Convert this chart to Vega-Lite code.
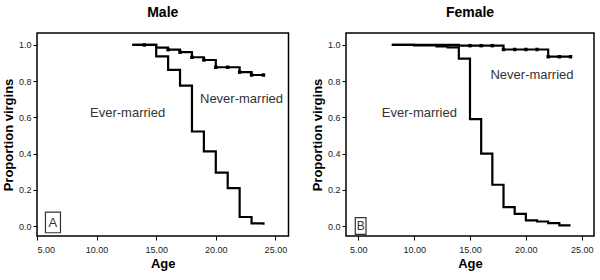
{
  "$schema": "https://vega.github.io/schema/vega-lite/v6.json",
  "padding": {"left": 1, "top": 5, "right": 3, "bottom": 2},
  "spacing": 20,
  "background": "#ffffff",
  "config": {
    "font": "Liberation Sans",
    "view": {"stroke": "#000000", "strokeWidth": 1.5},
    "axis": {
      "labelFont": "Liberation Sans", "labelFontSize": 9, "labelColor": "#222222",
      "titleFont": "Liberation Sans", "titleFontSize": 13, "titleFontWeight": "bold", "titleColor": "#000000",
      "tickColor": "#000000", "tickSize": 4, "tickWidth": 1, "domain": false, "grid": false
    },
    "axisX": {"labelPadding": 5, "titlePadding": 3},
    "axisY": {"labelPadding": 2, "titlePadding": 3},
    "title": {"font": "Liberation Sans", "fontSize": 14, "fontWeight": "bold", "color": "#000000", "anchor": "middle", "offset": 13}
  },
  "datasets": {
    "curves": [
      {"sex": "Male", "group": "Ever-married", "age": 13, "p": 1.0},
      {"sex": "Male", "group": "Ever-married", "age": 15, "p": 0.937},
      {"sex": "Male", "group": "Ever-married", "age": 16, "p": 0.862},
      {"sex": "Male", "group": "Ever-married", "age": 17, "p": 0.775},
      {"sex": "Male", "group": "Ever-married", "age": 18, "p": 0.522},
      {"sex": "Male", "group": "Ever-married", "age": 19, "p": 0.412},
      {"sex": "Male", "group": "Ever-married", "age": 20, "p": 0.295},
      {"sex": "Male", "group": "Ever-married", "age": 21, "p": 0.209},
      {"sex": "Male", "group": "Ever-married", "age": 22, "p": 0.05},
      {"sex": "Male", "group": "Ever-married", "age": 23, "p": 0.015},
      {"sex": "Male", "group": "Ever-married", "age": 24, "p": 0.007},
      {"sex": "Male", "group": "Never-married", "age": 13, "p": 1.0},
      {"sex": "Male", "group": "Never-married", "age": 15, "p": 0.985},
      {"sex": "Male", "group": "Never-married", "age": 16, "p": 0.974},
      {"sex": "Male", "group": "Never-married", "age": 17, "p": 0.96},
      {"sex": "Male", "group": "Never-married", "age": 18, "p": 0.932},
      {"sex": "Male", "group": "Never-married", "age": 19, "p": 0.917},
      {"sex": "Male", "group": "Never-married", "age": 20, "p": 0.877},
      {"sex": "Male", "group": "Never-married", "age": 22, "p": 0.85},
      {"sex": "Male", "group": "Never-married", "age": 23, "p": 0.834},
      {"sex": "Male", "group": "Never-married", "age": 24, "p": 0.834},
      {"sex": "Female", "group": "Ever-married", "age": 8, "p": 1.0},
      {"sex": "Female", "group": "Ever-married", "age": 10, "p": 0.997},
      {"sex": "Female", "group": "Ever-married", "age": 12, "p": 0.992},
      {"sex": "Female", "group": "Ever-married", "age": 13, "p": 0.987},
      {"sex": "Female", "group": "Ever-married", "age": 14, "p": 0.925},
      {"sex": "Female", "group": "Ever-married", "age": 15, "p": 0.59},
      {"sex": "Female", "group": "Ever-married", "age": 16, "p": 0.4},
      {"sex": "Female", "group": "Ever-married", "age": 17, "p": 0.228},
      {"sex": "Female", "group": "Ever-married", "age": 18, "p": 0.105},
      {"sex": "Female", "group": "Ever-married", "age": 19, "p": 0.067},
      {"sex": "Female", "group": "Ever-married", "age": 20, "p": 0.031},
      {"sex": "Female", "group": "Ever-married", "age": 21, "p": 0.025},
      {"sex": "Female", "group": "Ever-married", "age": 22, "p": 0.016},
      {"sex": "Female", "group": "Ever-married", "age": 23, "p": 0.004},
      {"sex": "Female", "group": "Ever-married", "age": 24, "p": 0.004},
      {"sex": "Female", "group": "Never-married", "age": 8, "p": 1.0},
      {"sex": "Female", "group": "Never-married", "age": 14, "p": 0.996},
      {"sex": "Female", "group": "Never-married", "age": 18, "p": 0.975},
      {"sex": "Female", "group": "Never-married", "age": 22, "p": 0.935},
      {"sex": "Female", "group": "Never-married", "age": 24, "p": 0.935}
    ],
    "censor": [
      {"sex": "Male", "age": 14, "p": 1.0},
      {"sex": "Male", "age": 16, "p": 0.974},
      {"sex": "Male", "age": 17, "p": 0.96},
      {"sex": "Male", "age": 18, "p": 0.932},
      {"sex": "Male", "age": 19, "p": 0.917},
      {"sex": "Male", "age": 20, "p": 0.877},
      {"sex": "Male", "age": 21, "p": 0.877},
      {"sex": "Male", "age": 22, "p": 0.85},
      {"sex": "Male", "age": 23, "p": 0.834},
      {"sex": "Male", "age": 24, "p": 0.834},
      {"sex": "Female", "age": 15, "p": 0.996},
      {"sex": "Female", "age": 16, "p": 0.996},
      {"sex": "Female", "age": 17, "p": 0.996},
      {"sex": "Female", "age": 18, "p": 0.975},
      {"sex": "Female", "age": 19, "p": 0.975},
      {"sex": "Female", "age": 20, "p": 0.975},
      {"sex": "Female", "age": 21, "p": 0.975},
      {"sex": "Female", "age": 22, "p": 0.935},
      {"sex": "Female", "age": 23, "p": 0.935},
      {"sex": "Female", "age": 24, "p": 0.935}
    ],
    "labels": [
      {"sex": "Male", "label": "Ever-married", "age": 12.6, "p": 0.624},
      {"sex": "Male", "label": "Never-married", "age": 22.16, "p": 0.7},
      {"sex": "Female", "label": "Ever-married", "age": 10.47, "p": 0.624},
      {"sex": "Female", "label": "Never-married", "age": 20.55, "p": 0.834}
    ],
    "boxes": [
      {"sex": "Male", "letter": "A", "age": 6.32, "p": 0.019, "x1": 5.71, "x2": 6.97, "y1": -0.037, "y2": 0.077},
      {"sex": "Female", "letter": "B", "age": 5.22, "p": 0.002, "x1": 4.73, "x2": 5.69, "y1": -0.046, "y2": 0.046}
    ]
  },
  "hconcat": [
    {
      "title": {"text": "Male"},
      "width": 251.5,
      "height": 203,
      "layer": [
        {
          "data": {"name": "curves"},
          "transform": [{"filter": "datum.sex === 'Male'"}],
          "mark": {"type": "line", "interpolate": "step-after", "color": "#000000", "strokeWidth": 2.2},
          "encoding": {
            "x": {"field": "age", "type": "quantitative", "scale": {"domain": [5, 26.1], "nice": false, "zero": false}, "axis": {"values": [5, 10, 15, 20, 25], "format": ".2f", "title": "Age"}},
            "y": {"field": "p", "type": "quantitative", "scale": {"domain": [-0.055, 1.066], "nice": false, "zero": false}, "axis": {"values": [0, 0.2, 0.4, 0.6, 0.8, 1.0], "format": ".1f", "title": "Proportion virgins"}},
            "detail": {"field": "group", "type": "nominal"}
          }
        },
        {
          "data": {"name": "censor"},
          "transform": [{"filter": "datum.sex === 'Male'"}],
          "mark": {"type": "point", "shape": "square", "filled": true, "color": "#000000", "size": 12, "opacity": 1},
          "encoding": {"x": {"field": "age", "type": "quantitative"}, "y": {"field": "p", "type": "quantitative"}}
        },
        {
          "data": {"name": "labels"},
          "transform": [{"filter": "datum.sex === 'Male'"}],
          "mark": {"type": "text", "font": "Liberation Sans", "fontSize": 13, "color": "#333333", "align": "center", "baseline": "middle"},
          "encoding": {"x": {"field": "age", "type": "quantitative"}, "y": {"field": "p", "type": "quantitative"}, "text": {"field": "label"}}
        },
        {
          "data": {"name": "boxes"},
          "transform": [{"filter": "datum.sex === 'Male'"}],
          "mark": {"type": "rect", "fill": null, "stroke": "#333333", "strokeWidth": 1.2},
          "encoding": {"x": {"field": "x1", "type": "quantitative"}, "x2": {"field": "x2"}, "y": {"field": "y1", "type": "quantitative"}, "y2": {"field": "y2"}}
        },
        {
          "data": {"name": "boxes"},
          "transform": [{"filter": "datum.sex === 'Male'"}],
          "mark": {"type": "text", "font": "Liberation Sans", "fontSize": 13, "color": "#333333", "align": "center", "baseline": "middle"},
          "encoding": {"x": {"field": "age", "type": "quantitative"}, "y": {"field": "p", "type": "quantitative"}, "text": {"field": "letter"}}
        }
      ]
    },
    {
      "title": {"text": "Female"},
      "width": 248,
      "height": 203,
      "layer": [
        {
          "data": {"name": "curves"},
          "transform": [{"filter": "datum.sex === 'Female'"}],
          "mark": {"type": "line", "interpolate": "step-after", "color": "#000000", "strokeWidth": 2.2},
          "encoding": {
            "x": {"field": "age", "type": "quantitative", "scale": {"domain": [3.9, 26.1], "nice": false, "zero": false}, "axis": {"values": [5, 10, 15, 20, 25], "format": ".2f", "title": "Age"}},
            "y": {"field": "p", "type": "quantitative", "scale": {"domain": [-0.055, 1.066], "nice": false, "zero": false}, "axis": {"values": [0, 0.2, 0.4, 0.6, 0.8, 1.0], "format": ".1f", "title": "Proportion virgins"}},
            "detail": {"field": "group", "type": "nominal"}
          }
        },
        {
          "data": {"name": "censor"},
          "transform": [{"filter": "datum.sex === 'Female'"}],
          "mark": {"type": "point", "shape": "square", "filled": true, "color": "#000000", "size": 12, "opacity": 1},
          "encoding": {"x": {"field": "age", "type": "quantitative"}, "y": {"field": "p", "type": "quantitative"}}
        },
        {
          "data": {"name": "labels"},
          "transform": [{"filter": "datum.sex === 'Female'"}],
          "mark": {"type": "text", "font": "Liberation Sans", "fontSize": 13, "color": "#333333", "align": "center", "baseline": "middle"},
          "encoding": {"x": {"field": "age", "type": "quantitative"}, "y": {"field": "p", "type": "quantitative"}, "text": {"field": "label"}}
        },
        {
          "data": {"name": "boxes"},
          "transform": [{"filter": "datum.sex === 'Female'"}],
          "mark": {"type": "rect", "fill": null, "stroke": "#333333", "strokeWidth": 1.2},
          "encoding": {"x": {"field": "x1", "type": "quantitative"}, "x2": {"field": "x2"}, "y": {"field": "y1", "type": "quantitative"}, "y2": {"field": "y2"}}
        },
        {
          "data": {"name": "boxes"},
          "transform": [{"filter": "datum.sex === 'Female'"}],
          "mark": {"type": "text", "font": "Liberation Sans", "fontSize": 12, "color": "#333333", "align": "center", "baseline": "middle"},
          "encoding": {"x": {"field": "age", "type": "quantitative"}, "y": {"field": "p", "type": "quantitative"}, "text": {"field": "letter"}}
        }
      ]
    }
  ]
}
